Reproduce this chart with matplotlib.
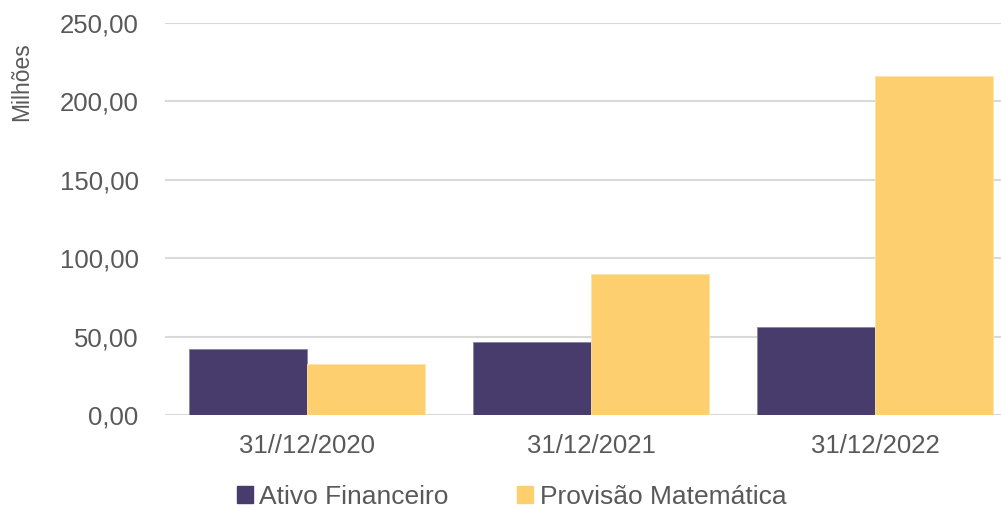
import matplotlib.pyplot as plt
import matplotlib.patches as mpatches
from matplotlib.ticker import FuncFormatter
import numpy as np

plt.rcParams['font.family'] = ['Liberation Sans', 'DejaVu Sans']

datas = ["31//12/2020", "31/12/2021", "31/12/2022"]
ativo = [41.9, 46.7, 55.9]
provisao = [32.3, 89.7, 216.2]
series = ["Ativo Financeiro", "Provisão Matemática"]

cor_ativo = "#473C6C"
cor_prov = "#FECF6E"
cinza = "#595959"

fig = plt.figure(figsize=(10.01, 5.09), dpi=100)
ax = fig.add_axes([165 / 1001, 94 / 509, 1 - 165 / 1001, 392 / 509])

x = np.arange(len(datas))
w = 0.416
ax.bar(x - w / 2, ativo, w, color=cor_ativo, edgecolor="#8a82a3", linewidth=0.6, zorder=3)
ax.bar(x + w / 2, provisao, w, color=cor_prov, edgecolor="#fde3a8", linewidth=0.6, zorder=3)

ax.set_xlim(-0.5, 2.444)
ax.set_ylim(0, 250)
ax.set_yticks([0, 50, 100, 150, 200, 250])
ax.yaxis.set_major_formatter(FuncFormatter(lambda v, p: f"{v:.2f}".replace(".", ",")))
ax.set_xticks(x)
ax.set_xticklabels(datas)
ax.grid(axis="y", color="#d9d9d9", linewidth=1.5, zorder=0)
ax.tick_params(axis="both", length=0, labelsize=18.5, colors=cinza)
ax.tick_params(axis="y", pad=19)
ax.tick_params(axis="x", pad=14)
for s in ax.spines.values():
    s.set_visible(False)

fig.text(22 / 1001, 1 - 82 / 509, "Milhões", rotation=90, ha="center", va="center",
         fontsize=16.5, color=cinza)

handles = [mpatches.Patch(color=cor_ativo), mpatches.Patch(color=cor_prov)]
fig.legend(handles, series, loc="center", bbox_to_anchor=(0.511, 1 - 497 / 509), ncol=2,
           frameon=False, fontsize=19, labelcolor=cinza, handlelength=0.6, handleheight=0.6,
           handletextpad=0.25, columnspacing=2.6, borderaxespad=0)

fig.savefig("out.png", dpi=100)
